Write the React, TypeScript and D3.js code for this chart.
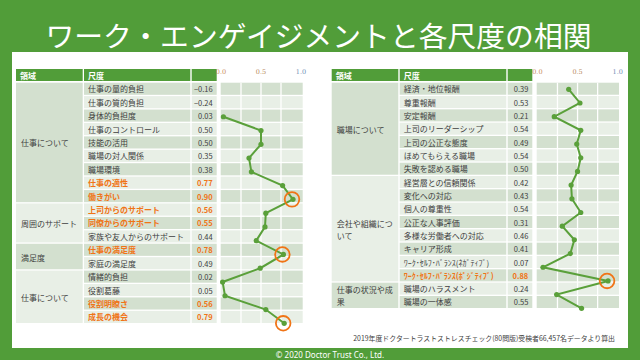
import * as d3 from "d3";
import { useEffect, useRef } from "react";

const LEFT_GROUPS = ["仕事について", "周囲のサポート", "満足度", "仕事について"];
const LEFT_GROUP_SIZES = [9, 3, 2, 4];
const LEFT_SCALES = [
  "仕事の量的負担", "仕事の質的負担", "身体的負担度", "仕事のコントロール", "技能の活用",
  "職場の対人関係", "職場環境", "仕事の適性", "働きがい",
  "上司からのサポート", "同僚からのサポート", "家族や友人からのサポート",
  "仕事の満足度", "家庭の満足度",
  "情緒的負担", "役割葛藤", "役割明瞭さ", "成長の機会",
];
const LEFT_VALUES = [-0.16, -0.24, 0.03, 0.5, 0.5, 0.35, 0.38, 0.77, 0.9, 0.56, 0.55, 0.44, 0.78, 0.49, 0.02, 0.05, 0.56, 0.79];
const LEFT_ORANGE = ["仕事の適性", "働きがい", "上司からのサポート", "同僚からのサポート", "仕事の満足度", "役割明瞭さ", "成長の機会"];
const LEFT_CIRCLED = ["働きがい", "仕事の満足度", "成長の機会"];

const RIGHT_GROUPS = ["職場について", "会社や組織について", "仕事の状況や成果"];
const RIGHT_GROUP_SIZES = [7, 8, 2];
const RIGHT_SCALES = [
  "経済・地位報酬", "尊重報酬", "安定報酬", "上司のリーダーシップ", "上司の公正な態度",
  "ほめてもらえる職場", "失敗を認める職場",
  "経営層との信頼関係", "変化への対応", "個人の尊重性", "公正な人事評価",
  "多様な労働者への対応", "キャリア形成", "ﾜｰｸ･ｾﾙﾌ･ﾊﾞﾗﾝｽ(ﾈｶﾞﾃｨﾌﾞ)", "ﾜｰｸ･ｾﾙﾌ･ﾊﾞﾗﾝｽ(ﾎﾟｼﾞﾃｨﾌﾞ)",
  "職場のハラスメント", "職場の一体感",
];
const RIGHT_VALUES = [0.39, 0.53, 0.21, 0.54, 0.49, 0.54, 0.5, 0.42, 0.43, 0.54, 0.31, 0.46, 0.41, 0.07, 0.88, 0.24, 0.55];
const RIGHT_ORANGE = ["ﾜｰｸ･ｾﾙﾌ･ﾊﾞﾗﾝｽ(ﾎﾟｼﾞﾃｨﾌﾞ)"];
const RIGHT_CIRCLED = ["ﾜｰｸ･ｾﾙﾌ･ﾊﾞﾗﾝｽ(ﾎﾟｼﾞﾃｨﾌﾞ)"];

const AXIS_TICKS = [0, 0.5, 1];
const TITLE = "ワーク・エンゲイジメントと各尺度の相関";
const NOTE = "2019年度ドクタートラストストレスチェック(80問版)受検者66,457名データより算出";
const COPYRIGHT = "© 2020 Doctor Trust Co., Ltd.";

const GREEN = "#519d39";
const DARK = "#d3e0cf";
const LIGHT = "#e8efe6";
const ORANGE = "#f07416";
const TEXT = "#404040";
const FONT = "'Noto Sans CJK JP', 'Noto Sans', sans-serif";

type Panel = {
  groups: string[];
  sizes: number[];
  scales: string[];
  values: number[];
  orange: string[];
  circled: string[];
  groupX: [number, number];
  scaleX: [number, number];
  valX: [number, number];
  bgX: [number, number];
  xRange: [number, number];
  rowH: number;
  pointY: [number, number];
};

const ROW_TOP = 82.7;
const HEADER_Y = 69;
const GAP = 1.3;

function drawPanel(svg: d3.Selection<SVGSVGElement, unknown, null, undefined>, p: Panel) {
  const g = svg.append("g");
  const n = p.scales.length;
  const rowY = (i: number) => ROW_TOP + i * p.rowH;

  // header
  const heads: [[number, number], string][] = [[p.groupX, "領域"], [p.scaleX, "尺度"], [p.valX, ""]];
  heads.forEach(([[a, b], label]) => {
    g.append("rect").attr("x", a).attr("y", HEADER_Y).attr("width", b - a).attr("height", 12).attr("fill", GREEN);
    if (label)
      g.append("text").attr("x", a + 4).attr("y", HEADER_Y + 6).attr("dominant-baseline", "central")
        .attr("fill", "#fff").attr("font-size", 8).attr("font-weight", 700).text(label);
  });

  // group cells (labels wrap)
  let start = 0;
  p.groups.forEach((name, gi) => {
    const y0 = rowY(start);
    const h = p.sizes[gi] * p.rowH - GAP;
    g.append("rect").attr("x", p.groupX[0]).attr("y", y0).attr("width", p.groupX[1] - p.groupX[0])
      .attr("height", h).attr("fill", gi % 2 === 0 ? DARK : LIGHT);
    const perLine = Math.floor((p.groupX[1] - p.groupX[0] - 6) / 8);
    const chars = Array.from(name);
    const lines: string[] = [];
    for (let i = 0; i < chars.length; i += perLine) lines.push(chars.slice(i, i + perLine).join(""));
    const lh = 11.7;
    const t = g.append("text").attr("font-size", 8).attr("fill", TEXT).attr("dominant-baseline", "central");
    lines.forEach((ln, li) => {
      t.append("tspan").attr("x", p.groupX[0] + 5)
        .attr("y", y0 + h / 2 + (li - (lines.length - 1) / 2) * lh).text(ln);
    });
    start += p.sizes[gi];
  });

  // rows
  p.scales.forEach((name, i) => {
    const y0 = rowY(i);
    const fill = i % 2 === 0 ? DARK : LIGHT;
    const hot = p.orange.includes(name);
    const col = hot ? ORANGE : TEXT;
    g.append("rect").attr("x", p.scaleX[0]).attr("y", y0).attr("width", p.scaleX[1] - p.scaleX[0]).attr("height", p.rowH - GAP).attr("fill", fill);
    g.append("rect").attr("x", p.valX[0]).attr("y", y0).attr("width", p.valX[1] - p.valX[0]).attr("height", p.rowH - GAP).attr("fill", fill);
    g.append("rect").attr("x", p.bgX[0]).attr("y", y0).attr("width", p.bgX[1] - p.bgX[0]).attr("height", p.rowH - GAP).attr("fill", fill);
    g.append("text").attr("x", p.scaleX[0] + 4).attr("y", y0 + (p.rowH - GAP) / 2)
      .attr("dominant-baseline", "central").attr("font-size", 8).attr("fill", col)
      .attr("font-weight", hot ? 700 : 400).text(name);
    g.append("text").attr("x", p.valX[1] - 4).attr("y", y0 + (p.rowH - GAP) / 2)
      .attr("dominant-baseline", "central").attr("text-anchor", "end").attr("font-size", 7.5)
      .attr("fill", col).attr("font-weight", hot ? 700 : 400).text(d3.format(".2f")(p.values[i]));
  });

  const x = d3.scaleLinear().domain([0, 1]).range(p.xRange);
  const y = d3.scaleLinear().domain([0, n - 1]).range(p.pointY);

  // vertical white gridlines
  [0.25, 0.5, 0.75].forEach(t => {
    g.append("line").attr("x1", x(t)).attr("x2", x(t)).attr("y1", ROW_TOP).attr("y2", rowY(n) - GAP)
      .attr("stroke", "#fff").attr("stroke-width", GAP);
  });

  // tick labels
  const tickColors = ["#c98a5c", "#b98a60", "#6d8db5"];
  AXIS_TICKS.forEach((t, i) => {
    g.append("text").attr("x", x(t)).attr("y", 72).attr("text-anchor", "middle")
      .attr("dominant-baseline", "central").attr("font-size", 6.5).attr("fill", tickColors[i])
      .attr("font-family", "'DejaVu Serif', serif").text(d3.format(".1f")(t));
  });

  // line
  const pts = p.values.map((v, i) => [i, v] as [number, number]);
  const line = d3.line<[number, number]>()
    .defined(d => d[1] >= 0)
    .x(d => x(d[1]))
    .y(d => y(d[0]));
  g.append("path").datum(pts).attr("d", line).attr("fill", "none").attr("stroke", "#5aa03a").attr("stroke-width", 2);
  g.selectAll("circle.pt").data(pts.filter(d => d[1] >= 0)).enter().append("circle")
    .attr("class", "pt").attr("cx", d => x(d[1])).attr("cy", d => y(d[0])).attr("r", 2.6).attr("fill", "#5aa03a");

  // highlight circles
  p.scales.forEach((name, i) => {
    if (!p.circled.includes(name)) return;
    g.append("circle").attr("cx", x(p.values[i]) - 1).attr("cy", y(i)).attr("r", 7.3)
      .attr("fill", "none").attr("stroke", ORANGE).attr("stroke-width", 1.8);
  });
}

export default function App() {
  const svgRef = useRef<SVGSVGElement | null>(null);

  useEffect(() => {
    const svg = d3.select(svgRef.current!);
    svg.selectAll("*").remove();
    svg.attr("font-family", FONT);

    svg.append("rect").attr("width", 640).attr("height", 360).attr("fill", GREEN);
    svg.append("rect").attr("x", 12).attr("y", 52).attr("width", 616).attr("height", 296).attr("fill", "#fff");

    svg.append("text").attr("x", 318.5).attr("y", 34.5).attr("text-anchor", "middle")
      .attr("dominant-baseline", "central").attr("font-size", 28.8).attr("fill", "#fff").text(TITLE);

    drawPanel(svg, {
      groups: LEFT_GROUPS, sizes: LEFT_GROUP_SIZES, scales: LEFT_SCALES, values: LEFT_VALUES,
      orange: LEFT_ORANGE, circled: LEFT_CIRCLED,
      groupX: [16, 82.7], scaleX: [84, 190.3], valX: [191.7, 216.7], bgX: [220.7, 302.7],
      xRange: [221, 301], rowH: 13.42, pointY: [89.2, 323.3],
    });
    drawPanel(svg, {
      groups: RIGHT_GROUPS, sizes: RIGHT_GROUP_SIZES, scales: RIGHT_SCALES, values: RIGHT_VALUES,
      orange: RIGHT_ORANGE, circled: RIGHT_CIRCLED,
      groupX: [331.7, 398.3], scaleX: [399.7, 506.3], valX: [507.7, 532.3], bgX: [536.7, 619],
      xRange: [537.4, 617.7], rowH: 13.33, pointY: [89.3, 308.3],
    });

    svg.append("text").attr("x", 615).attr("y", 337.7).attr("text-anchor", "end")
      .attr("dominant-baseline", "central").attr("font-size", 6.9).attr("fill", TEXT).text(NOTE);
    svg.append("text").attr("x", 330).attr("y", 354).attr("text-anchor", "middle")
      .attr("dominant-baseline", "central").attr("font-size", 8).attr("fill", "#fff")
      .attr("font-family", "'Noto Sans', sans-serif").text(COPYRIGHT);
  }, []);

  return (
    <svg ref={svgRef} width={640} height={360}
      style={{ position: "absolute", left: 0, top: 0, display: "block" }} />
  );
}
